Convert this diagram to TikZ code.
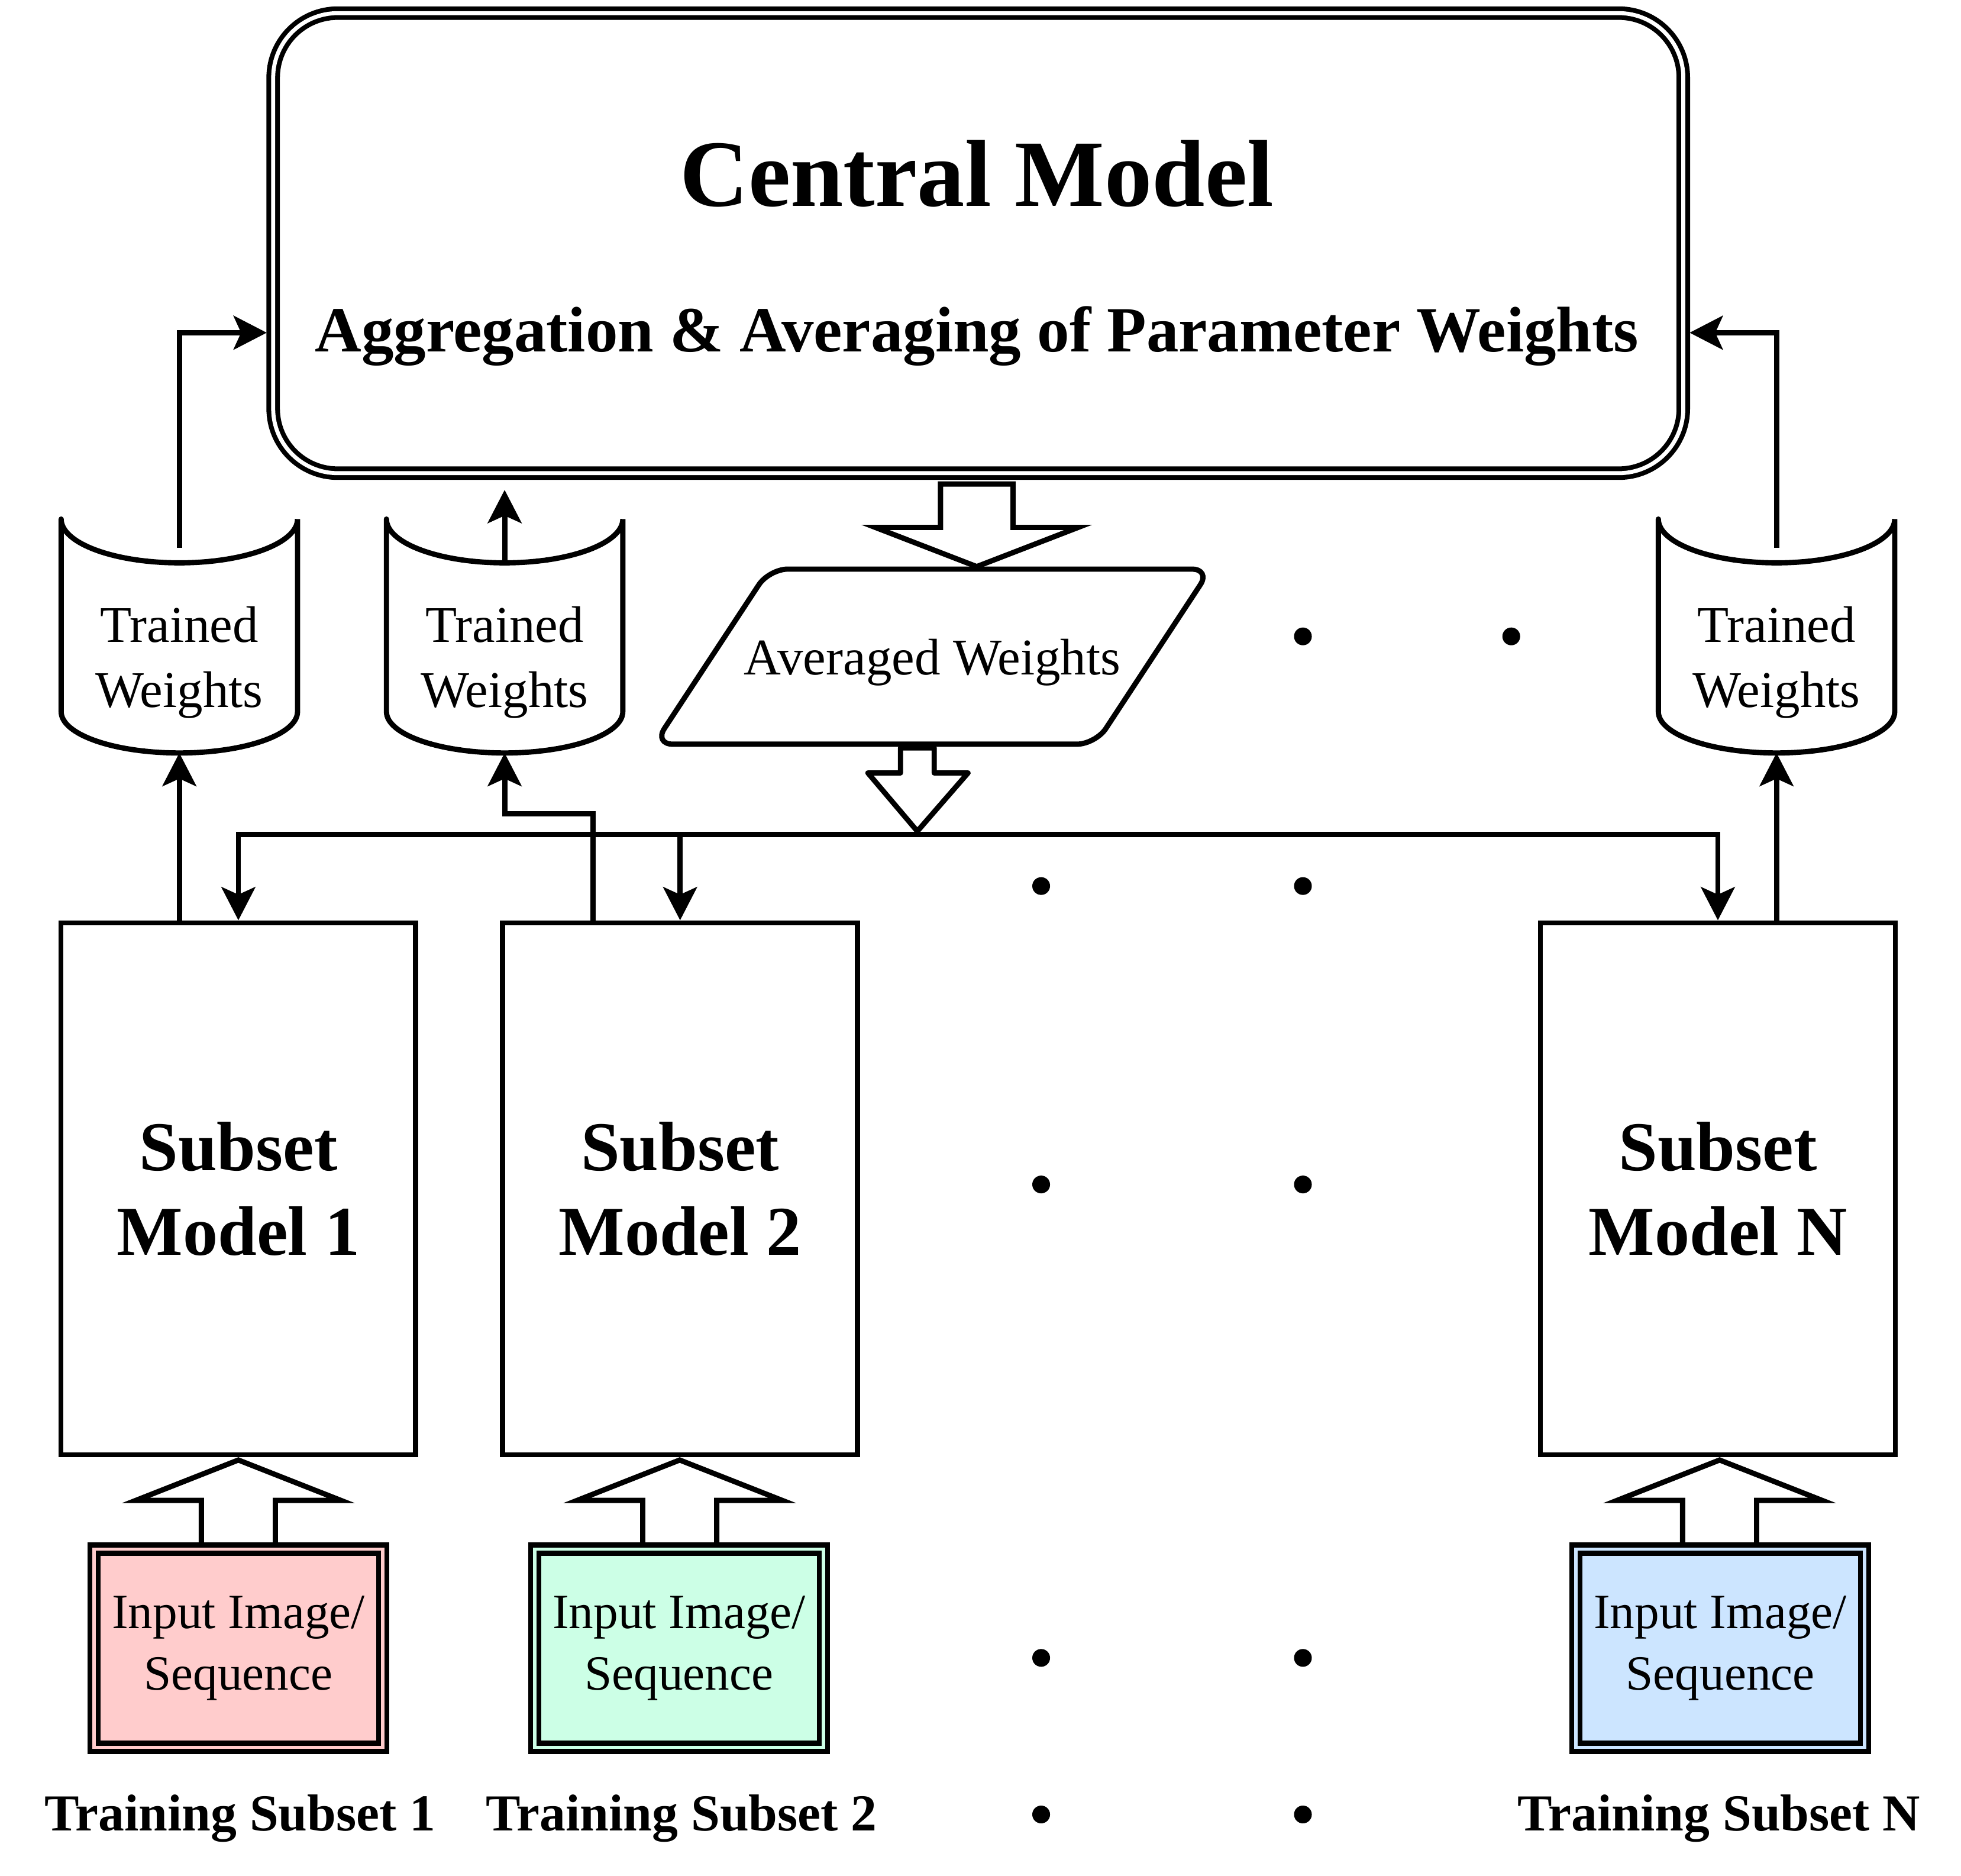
\documentclass[tikz,border=0pt]{standalone}
\usepackage{fontspec}
\setmainfont{Liberation Serif}
\usetikzlibrary{arrows.meta,calc,positioning}
\definecolor{pinkfill}{HTML}{FFCCCC}
\definecolor{mintfill}{HTML}{CCFFE6}
\definecolor{bluefill}{HTML}{CCE5FF}
% open-topped store, #1 name, #2 centre x
\newcommand{\storecyl}[2]{%
	\draw[line join=round] (#2+94.5,415) -- (#2+94.5,569) .. controls (#2+94.5,587.2) and (#2+52.2,602) .. (#2,602)
		.. controls (#2-52.2,602) and (#2-94.5,587.2) .. (#2-94.5,569) -- (#2-94.5,415)
		.. controls (#2-94.5,434.3) and (#2-52.2,450) .. (#2,450) .. controls (#2+52.2,450) and (#2+94.5,434.3) .. (#2+94.5,415);
	\coordinate (#1top) at (#2,450);
	\coordinate (#1bot) at (#2,602);}

\begin{document}
\begin{tikzpicture}[x=0.01cm, y=-0.01cm, line width=0.42mm,
	arr/.style={-{Stealth[length=2.65mm,width=2.7mm,inset=0.6mm]}},
	cmbox/.style={draw, double=white, double distance=0.32mm, line width=0.38mm, rounded corners=5.16mm, minimum width=112.69mm, minimum height=36.76mm},
	submodel/.style={draw, minimum width=28.36mm, minimum height=42.5mm, align=center, font=\fontsize{15.9}{19.35}\selectfont\bfseries},
	imgbox/.style={draw, double distance=0.25mm, line width=0.4mm, minimum width=23.07mm, minimum height=15.84mm, align=center, font=\fontsize{11.2}{14.0}\selectfont},
	wtext/.style={align=center, inner sep=0, font=\fontsize{11.7}{14.8}\selectfont},
	sublabel/.style={anchor=base, inner sep=0, font=\fontsize{11.8}{14}\selectfont\bfseries},
	blockarrow/.style={draw, fill=white}]
	\useasboundingbox (0,0) rectangle (1568,1499.5);

	% Central model
	\node[cmbox] (central) at (782.2,194.4) {};
	\node[anchor=base, inner sep=0, font=\fontsize{21.6}{26}\selectfont\bfseries] (cmtitle) at (781,165) {Central Model};
	\node[anchor=base, inner sep=0, font=\fontsize{14.65}{18}\selectfont\bfseries] (cmsub) at (781,281) {Aggregation \& Averaging of Parameter Weights};

	% Trained weight stores
	\storecyl{tw1}{143.4}
	\storecyl{tw2}{403.5}
	\storecyl{twN}{1420.5}
	\node[wtext] (tw1) at (143.4,529.5) {Trained\\Weights};
	\node[wtext] (tw2) at (403.5,529.5) {Trained\\Weights};
	\node[wtext] (twN) at (1420.5,529.5) {Trained\\Weights};

	% Averaged weights
	\draw[blockarrow] (752,387) -- (810,387) -- (810,421.7) -- (862,421.7) -- (781,453) -- (700,421.7) -- (752,421.7) -- cycle;
	\draw[rounded corners=1.5mm] (523,595) -- (876,595) -- (968,455) -- (615,455) -- cycle;
	\node[wtext] (avg) at (745.5,529.5) {Averaged Weights};
	\draw[blockarrow, line join=round] (720,598) -- (747,598) -- (747,618) -- (774,618) -- (733.5,664.6) -- (694,618) -- (720,618) -- cycle;

	% Subset models
	\node[submodel] (sm1) at (190.6,950.5) {Subset\\Model 1};
	\node[submodel] (sm2) at (543.8,950.5) {Subset\\Model 2};
	\node[submodel] (smN) at (1373.6,950.5) {Subset\\Model N};

	% Weights up to the central model
	\coordinate (cl) at (213.3,266);
	\coordinate (cr) at (1351,266);
	\draw[arr] ([yshift=1.2mm]tw1top) |- (cl);
	\draw[arr] (tw2top) -- ++(0,-58.3);
	\draw[arr] ([yshift=1.2mm]twNtop) |- (cr);

	% Averaged weights down to the subset models
	\coordinate (hub) at (733.5,667);
	\draw[arr] (hub) -| (sm1.north);
	\draw[arr] (hub) -| (sm2.north);
	\draw[arr] (hub) -| (smN.north);

	% Subset models up to the stores
	\coordinate (step2) at (474,650.4);
	\draw[arr] (tw1bot |- sm1.north) -- (tw1bot);
	\draw[arr] (step2 |- sm2.north) -- (step2) -| (tw2bot);
	\draw[arr] (twNbot |- smN.north) -- (twNbot);

	% Input data
	\draw[blockarrow] (161,1238) -- (161,1199.6) -- (108.6,1199.6) -- (190.6,1167.3) -- (272.6,1199.6) -- (220.2,1199.6) -- (220.2,1238) -- cycle;
	\draw[blockarrow] (513.9,1238) -- (513.9,1199.6) -- (461.5,1199.6) -- (543.5,1167.3) -- (625.5,1199.6) -- (573.1,1199.6) -- (573.1,1238) -- cycle;
	\draw[blockarrow] (1345.4,1238) -- (1345.4,1199.6) -- (1293,1199.6) -- (1375,1167.3) -- (1457,1199.6) -- (1404.6,1199.6) -- (1404.6,1238) -- cycle;
	\node[imgbox, fill=pinkfill, double=pinkfill] (img1) at (190.6,1317.8) {Input Image/\\Sequence};
	\node[imgbox, fill=mintfill, double=mintfill] (img2) at (543,1317.8) {Input Image/\\Sequence};
	\node[imgbox, fill=bluefill, double=bluefill] (imgN) at (1375.5,1317.8) {Input Image/\\Sequence};

	\node[sublabel] (lab1) at (192,1463.6) {Training Subset 1};
	\node[sublabel] (lab2) at (545,1463.6) {Training Subset 2};
	\node[sublabel] (labN) at (1374.5,1463.6) {Training Subset N};

	% Ellipsis dots
	\fill (1041.8,508.8) circle (0.71mm);
	\fill (1208.4,508.8) circle (0.71mm);
	\fill (832.5,708.4) circle (0.71mm);
	\fill (1041.8,708.4) circle (0.71mm);
	\fill (832.5,947) circle (0.71mm);
	\fill (1041.8,947) circle (0.71mm);
	\fill (832.5,1325.5) circle (0.71mm);
	\fill (1041.8,1325.5) circle (0.71mm);
	\fill (832.5,1450.7) circle (0.71mm);
	\fill (1041.8,1450.7) circle (0.71mm);
\end{tikzpicture}
\end{document}
